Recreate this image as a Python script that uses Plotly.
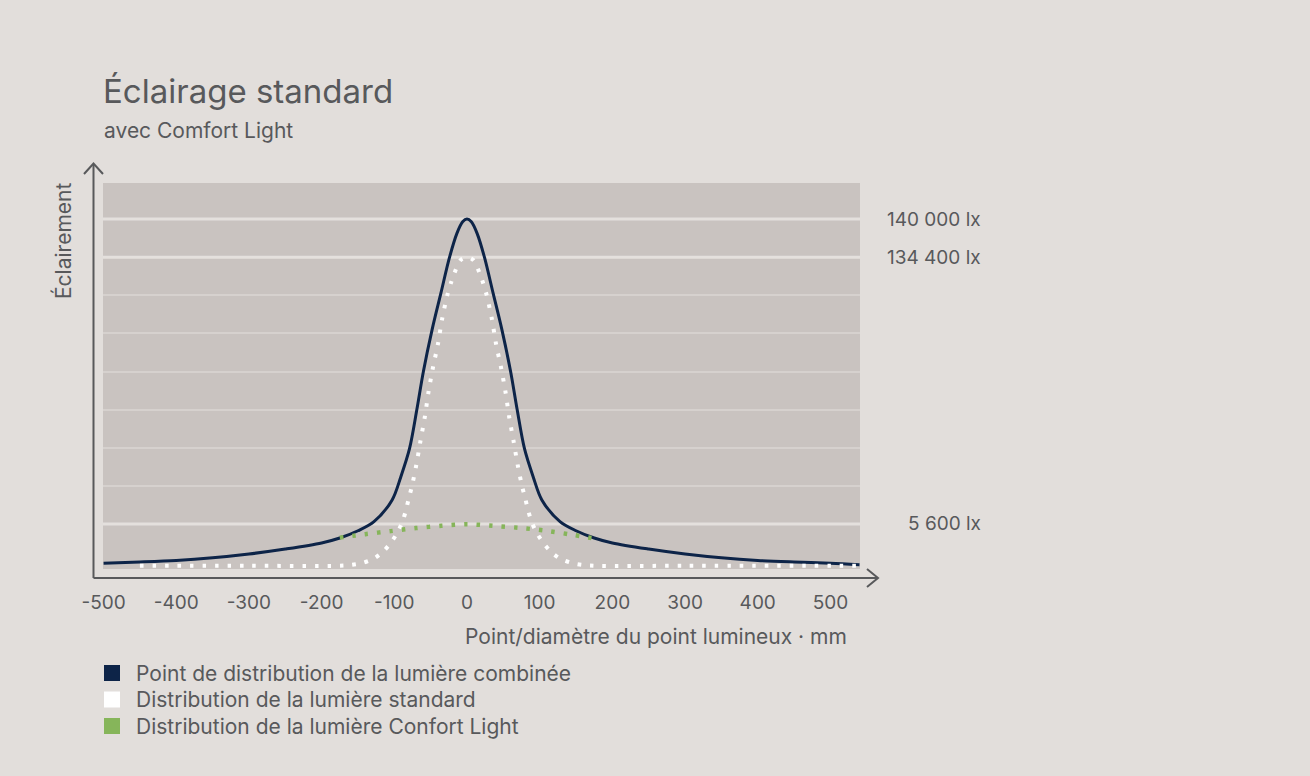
import plotly.graph_objects as go

# ---------------- data ----------------
# y values are in display units: gridlines at 1..9, 9 = 140 000 lx, 8 = 134 400 lx, 1 = 5 600 lx
combined_x = [-500, -450, -400, -350, -300, -250, -200, -175, -150, -128, -103, -91, -79, -69, -60,
              -48, -36, -24, -14, -6, 0, 6, 14, 24, 36, 48, 60, 69, 79, 91, 103, 128, 150, 175, 200,
              250, 300, 350, 400, 450, 500, 540]
combined_y = [-0.03, 0.00, 0.04, 0.11, 0.21, 0.34, 0.50, 0.63, 0.82, 1.06, 1.63, 2.24, 2.98, 4.00, 5.00,
              6.10, 7.05, 8.00, 8.62, 8.93, 9.00, 8.93, 8.62, 8.00, 7.05, 6.10, 5.00, 4.00, 2.98, 2.24, 1.63, 1.06, 0.82, 0.63, 0.50,
              0.34, 0.21, 0.11, 0.04, 0.00, -0.03, -0.07]

standard_x = [-450, -300, -180, -161, -145, -129, -116, -105, -96, -89, -84, -80, -76, -70, -64, -58,
              -53, -47, -40, -34, -27, -22, -17, -9, 0, 9, 17, 22, 27, 34, 40, 47, 53, 58, 64, 70,
              76, 80, 84, 89, 96, 105, 116, 129, 145, 161, 180, 300, 540]
standard_y = [-0.10, -0.10, -0.10, -0.08, -0.03, 0.08, 0.26, 0.50, 0.76, 1.05, 1.36, 1.68, 1.97, 2.52, 3.18, 3.81,
              4.46, 5.09, 5.72, 6.40, 7.01, 7.33, 7.60, 7.92, 8.00, 7.92, 7.60, 7.33, 7.01, 6.40, 5.72, 5.09, 4.46, 3.81, 3.18, 2.52,
              1.97, 1.68, 1.36, 1.05, 0.76, 0.50, 0.26, 0.08, -0.03, -0.08, -0.10, -0.10, -0.10]

comfort_x = [-175, -140, -105, -70, -35, 0, 35, 70, 105, 140, 180]
comfort_y = [0.64, 0.73, 0.81, 0.89, 0.95, 0.99, 0.95, 0.90, 0.83, 0.73, 0.60]

x_ticks = [-500, -400, -300, -200, -100, 0, 100, 200, 300, 400, 500]
x_tick_labels = [str(v) for v in x_ticks]

lux_levels = [9, 8, 1]
lux_labels = ["140 000 lx", "134 400 lx", "5 600 lx"]
minor_grid = [2, 3, 4, 5, 6, 7]

series_names = ["Point de distribution de la lumière combinée",
                "Distribution de la lumière standard",
                "Distribution de la lumière Confort Light"]

# ---------------- style ----------------
NAVY = "#0d2448"
WHITE = "#ffffff"
GREEN = "#86b55a"
TEXT = "#58595b"
BG = "#e2dedb"
PLOT_BG = "#c9c3c0"
FONT = "Inter"

W, H = 1310, 776
ML, MR, MT, MB = 103, 450, 183, 207
PW = W - ML - MR
PH = H - MT - MB


def px(x):
    return (x - ML) / PW


def py(y):
    return (H - MB - y) / PH


fig = go.Figure()

fig.add_trace(go.Scatter(x=combined_x, y=combined_y, mode="lines", name=series_names[0],
                         line=dict(color=NAVY, width=3, shape="spline", smoothing=0.9),
                         showlegend=False, hoverinfo="skip"))
fig.add_trace(go.Scatter(x=standard_x, y=standard_y, mode="lines", name=series_names[1],
                         line=dict(color=WHITE, width=4, shape="spline", smoothing=0.8, dash="3.5px,9px"),
                         showlegend=False, hoverinfo="skip"))
fig.add_trace(go.Scatter(x=comfort_x, y=comfort_y, mode="lines", name=series_names[2],
                         line=dict(color=GREEN, width=4.5, shape="spline", smoothing=0.8, dash="3.5px,9px"),
                         showlegend=False, hoverinfo="skip"))

shapes = []
# emphasised gridlines
for lv in lux_levels:
    shapes.append(dict(type="line", xref="paper", yref="y", x0=0, x1=1, y0=lv, y1=lv,
                       line=dict(color="#e4e0dd", width=3), layer="below"))
# axes with arrows
AX = "#58595b"
shapes.append(dict(type="line", xref="paper", yref="paper", x0=px(93.5), x1=px(93.5), y0=py(578), y1=py(164),
                   line=dict(color=AX, width=2)))
shapes.append(dict(type="line", xref="paper", yref="paper", x0=px(93.5), x1=px(878), y0=py(578), y1=py(578),
                   line=dict(color=AX, width=2)))
shapes.append(dict(type="path", xref="paper", yref="paper",
                   path=f"M {px(84)} {py(174)} L {px(93.5)} {py(163.5)} L {px(103)} {py(174)}",
                   line=dict(color=AX, width=2)))
shapes.append(dict(type="path", xref="paper", yref="paper",
                   path=f"M {px(867)} {py(569)} L {px(878)} {py(578)} L {px(867)} {py(587)}",
                   line=dict(color=AX, width=2)))

annotations = []
annotations.append(dict(text="Éclairage standard", xref="paper", yref="paper", x=px(101), y=py(91),
                        xanchor="left", yanchor="middle", showarrow=False,
                        font=dict(family=FONT, size=33, color=TEXT)))
annotations.append(dict(text="avec Comfort Light", xref="paper", yref="paper", x=px(102), y=py(130),
                        xanchor="left", yanchor="middle", showarrow=False,
                        font=dict(family=FONT, size=21, color=TEXT)))
annotations.append(dict(text="Éclairement", xref="paper", yref="paper", x=px(63), y=py(241),
                        xanchor="center", yanchor="middle", showarrow=False, textangle=-90,
                        font=dict(family=FONT, size=21, color=TEXT)))
for lv, lab in zip(lux_levels, lux_labels):
    annotations.append(dict(text=lab, xref="paper", yref="y", x=px(983), y=lv,
                            xanchor="right", yanchor="middle", showarrow=False,
                            font=dict(family=FONT, size=19, color=TEXT)))
annotations.append(dict(text="Point/diamètre du point lumineux · mm", xref="paper", yref="paper",
                        x=px(849), y=py(636), xanchor="right", yanchor="middle", showarrow=False,
                        font=dict(family=FONT, size=21, color=TEXT)))

# legend (square swatches + labels)
legend_rows = [673, 699.5, 726]
for name, col, ry in zip(series_names, [NAVY, WHITE, GREEN], legend_rows):
    shapes.append(dict(type="rect", xref="paper", yref="paper", x0=px(104), x1=px(120),
                       y0=py(ry - 8), y1=py(ry + 8), fillcolor=col, line=dict(width=0)))
    annotations.append(dict(text=name, xref="paper", yref="paper", x=px(134), y=py(ry),
                            xanchor="left", yanchor="middle", showarrow=False,
                            font=dict(family=FONT, size=21, color=TEXT)))

fig.update_layout(
    width=W, height=H,
    margin=dict(l=ML, r=MR, t=MT, b=MB, pad=0),
    paper_bgcolor=BG, plot_bgcolor=PLOT_BG,
    font=dict(family=FONT, size=19, color=TEXT),
    xaxis=dict(range=[-500.8, 540.7], tickvals=x_ticks, ticktext=x_tick_labels, showgrid=False,
               zeroline=False, showline=False, ticks="outside", ticklen=16, tickcolor="rgba(0,0,0,0)",
               tickfont=dict(family=FONT, size=19, color=TEXT), fixedrange=True),
    yaxis=dict(range=[-0.184, 9.948], tickvals=minor_grid, showticklabels=False, showgrid=True,
               gridcolor="#d6d1ce", gridwidth=1.5, zeroline=False, showline=False, fixedrange=True),
    shapes=shapes, annotations=annotations,
    showlegend=False,
)

fig.write_html("out.html", post_script="document.body.style.margin='0';",
               config={"displayModeBar": False})
